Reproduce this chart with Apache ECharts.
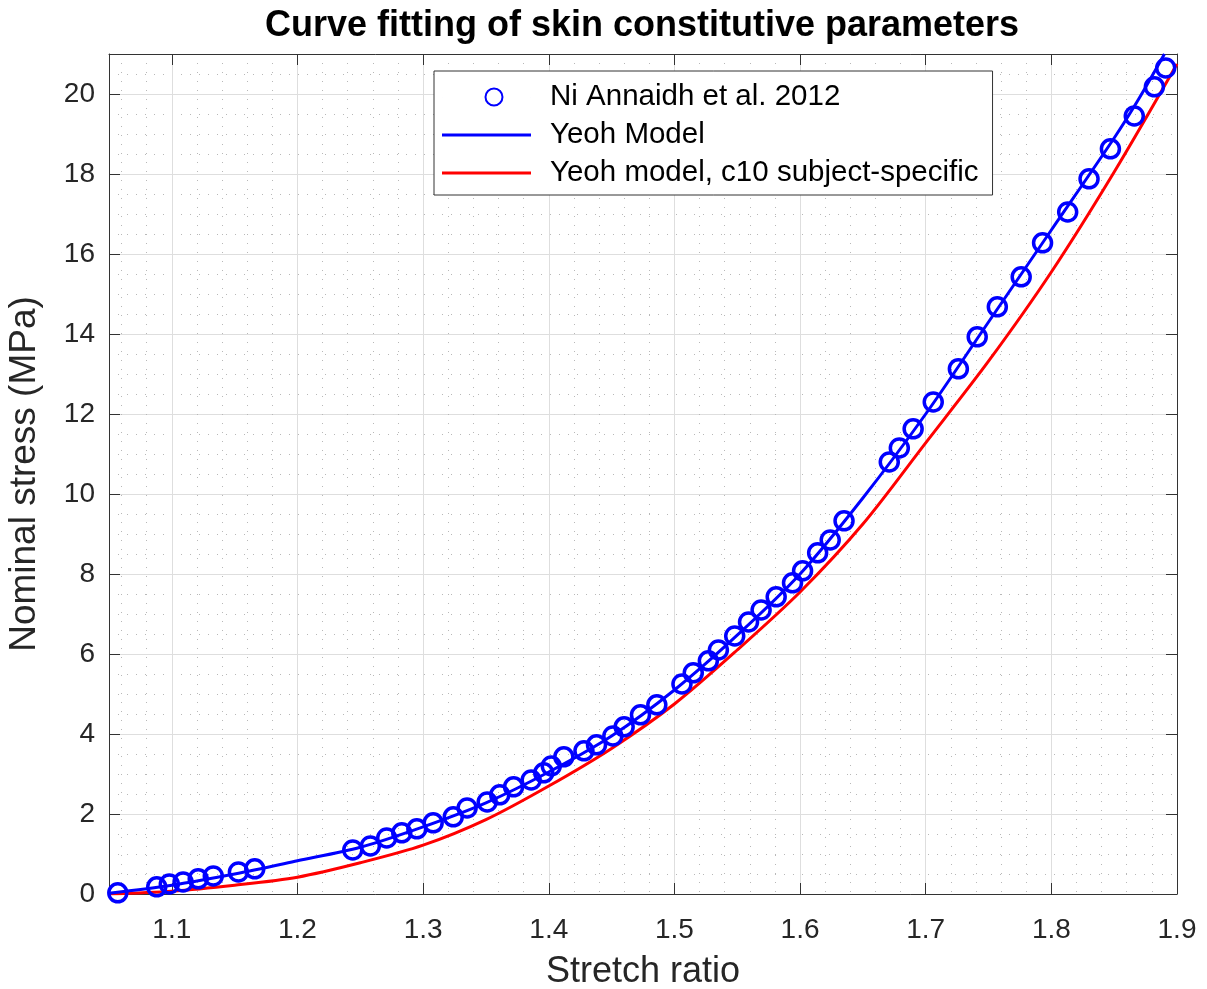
<!DOCTYPE html>
<html><head><meta charset="utf-8">
<script src="https://cdn.jsdelivr.net/npm/echarts@6/dist/echarts.min.js"></script>
<style>html,body{margin:0;padding:0;background:#fff}#c{width:1207px;height:989px}</style>
</head><body><div id="c"></div>
<script>
// Experimental data (Ni Annaidh et al. 2012)
const stretch = [1.057,1.088,1.098,1.109,1.121,1.133,1.153,1.166,
  1.244,1.258,1.271,1.283,1.295,1.308,1.324,1.335,1.351,1.361,1.372,1.386,1.396,1.402,1.412,1.428,1.438,1.451,1.460,1.473,1.486,
  1.506,1.515,1.527,1.535,1.548,1.559,1.569,1.581,1.594,1.602,1.614,1.624,1.635,
  1.671,1.679,1.690,1.706,1.726,1.741,1.757,1.776,1.793,1.813,1.830,1.847,1.866,1.882,1.891];
const stress = [0.03,0.18,0.25,0.30,0.38,0.45,0.55,0.63,
  1.10,1.20,1.40,1.53,1.63,1.78,1.93,2.15,2.30,2.48,2.68,2.85,3.03,3.20,3.43,3.58,3.73,3.95,4.18,4.48,4.73,
  5.25,5.53,5.83,6.10,6.45,6.80,7.10,7.43,7.78,8.08,8.53,8.85,9.33,
  10.80,11.15,11.63,12.30,13.13,13.93,14.68,15.43,16.28,17.05,17.88,18.63,19.45,20.18,20.65];
// Yeoh model fit
const yeohStretch = [1.05,1.10,1.15,1.20,1.25,1.30,1.35,1.40,1.45,1.50,1.55,1.60,1.65,1.70,1.75,1.80,1.85,1.87,1.89];
const yeohStress  = [0.02,0.22,0.50,0.83,1.17,1.68,2.28,3.05,3.95,5.10,6.47,8.00,9.90,12.00,14.30,16.60,18.90,19.90,21.00];
// Yeoh model, c10 subject-specific
const c10Stretch = [1.05,1.10,1.15,1.20,1.25,1.30,1.35,1.40,1.45,1.50,1.55,1.60,1.65,1.70,1.75,1.80,1.85,1.90];
const c10Stress  = [0.00,0.07,0.22,0.42,0.78,1.22,1.86,2.70,3.64,4.75,6.10,7.55,9.25,11.28,13.32,15.55,18.05,20.75];
// Axis ticks
const xTickValues = [1.1,1.2,1.3,1.4,1.5,1.6,1.7,1.8,1.9];
const yTickValues = [0,2,4,6,8,10,12,14,16,18,20];
const xMinorValues = [];
for (let k = 106; k <= 190; k += 2) { if (k % 10 !== 0) xMinorValues.push(k / 100); }
const yMinorValues = [];
for (let k = 1; k <= 42; k++) { if (k % 4 !== 0) yMinorValues.push(k / 2); }

const X_MIN = 1.05, X_MAX = 1.9, Y_MIN = 0, Y_MAX = 21;
const axisColor = '#333333';
const font = '"Liberation Sans", Arial, Helvetica, sans-serif';

function toPairs(xs, ys) { return xs.map((x, i) => [x, ys[i]]); }

const chart = echarts.init(document.getElementById('c'), null, {renderer: 'canvas'});
const majorSplit = {show: true, lineStyle: {color: '#dedede', width: 1, type: 'solid'}};
const minorSplit = {show: true, lineStyle: {color: '#b8b8b8', width: 1, type: [1, 8]}};
const lineIcon = 'path://M0,0L90,0L90,3L0,3Z';
const circleIcon = 'path://M0,10L0.01,10M89,10L89.01,10M60.5,10A8.5,8.5,0,1,1,43.5,10A8.5,8.5,0,1,1,60.5,10Z';

const option = {
  backgroundColor: '#ffffff',
  animation: false,
  title: {
    text: 'Curve fitting of skin constitutive parameters',
    left: 637, top: 3, textAlign: 'center',
    textStyle: {fontFamily: font, fontWeight: 'bold', fontSize: 36, color: '#000'}
  },
  grid: {left: 109, top: 54, width: 1068, height: 840, containLabel: false, outerBoundsMode: 'none'},
  legend: {
    orient: 'vertical', left: 434, top: 71,
    backgroundColor: '#fff', borderColor: '#333', borderWidth: 1, borderRadius: 0,
    padding: [11, 14, 7, 7],
    itemWidth: 89, itemHeight: 20, itemGap: 8,
    textStyle: {fontFamily: font, fontSize: 29.5, color: '#000', lineHeight: 30, padding: [0, 0, 0, 14]},
    data: [
      {name: 'Ni Annaidh et al. 2012', icon: circleIcon},
      {name: 'Yeoh Model', icon: lineIcon},
      {name: 'Yeoh model, c10 subject-specific', icon: lineIcon}
    ]
  },
  xAxis: [
    { // main bottom axis
      type: 'value', min: X_MIN, max: X_MAX, position: 'bottom',
      name: 'Stretch ratio', nameLocation: 'middle', nameGap: 60,
      nameTextStyle: {fontFamily: font, fontSize: 36, color: '#262626'},
      axisLine: {show: true, onZero: false, lineStyle: {color: axisColor, width: 1}},
      axisTick: {show: true, inside: true, length: 11, customValues: xTickValues, lineStyle: {color: axisColor}},
      axisLabel: {show: true, customValues: xTickValues, margin: 22, fontFamily: font, fontSize: 28, color: '#262626',
        formatter: v => v.toFixed(1)},
      splitLine: majorSplit
    },
    { // top box axis
      type: 'value', min: X_MIN, max: X_MAX, position: 'top',
      axisLine: {show: true, onZero: false, lineStyle: {color: axisColor, width: 1}},
      axisTick: {show: true, inside: true, length: 11, customValues: xTickValues, lineStyle: {color: axisColor}},
      axisLabel: {show: false}, splitLine: {show: false}
    },
    { // minor grid
      type: 'value', min: X_MIN, max: X_MAX, position: 'bottom',
      axisLine: {show: false}, axisTick: {show: false, customValues: xMinorValues}, axisLabel: {show: false},
      splitLine: minorSplit
    }
  ],
  yAxis: [
    {
      type: 'value', min: Y_MIN, max: Y_MAX, position: 'left',
      name: 'Nominal stress (MPa)', nameLocation: 'middle', nameGap: 66, nameRotate: 90,
      nameTextStyle: {fontFamily: font, fontSize: 37, color: '#262626'},
      axisLine: {show: true, onZero: false, lineStyle: {color: axisColor, width: 1}},
      axisTick: {show: true, inside: true, length: 11, customValues: yTickValues, lineStyle: {color: axisColor}},
      axisLabel: {show: true, customValues: yTickValues, margin: 14, fontFamily: font, fontSize: 28, color: '#262626'},
      splitLine: majorSplit
    },
    {
      type: 'value', min: Y_MIN, max: Y_MAX, position: 'right',
      axisLine: {show: true, onZero: false, lineStyle: {color: axisColor, width: 1}},
      axisTick: {show: true, inside: true, length: 11, customValues: yTickValues, lineStyle: {color: axisColor}},
      axisLabel: {show: false}, splitLine: {show: false}
    },
    {
      type: 'value', min: Y_MIN, max: Y_MAX, position: 'left',
      axisLine: {show: false}, axisTick: {show: false, customValues: yMinorValues}, axisLabel: {show: false},
      splitLine: minorSplit
    }
  ],
  series: [
    {
      name: 'Yeoh model, c10 subject-specific', type: 'line', xAxisIndex: 0, yAxisIndex: 0,
      data: toPairs(c10Stretch, c10Stress), symbol: 'none', smooth: 0.3,
      lineStyle: {color: '#ff0000', width: 3}, itemStyle: {color: '#ff0000'}, clip: true, z: 3
    },
    {
      name: 'Yeoh Model', type: 'line', xAxisIndex: 0, yAxisIndex: 0,
      data: toPairs(yeohStretch, yeohStress), symbol: 'none', smooth: 0.3,
      lineStyle: {color: '#0000ff', width: 3}, itemStyle: {color: '#0000ff'}, clip: true, z: 4
    },
    {
      name: 'Ni Annaidh et al. 2012', type: 'scatter', xAxisIndex: 0, yAxisIndex: 0,
      data: toPairs(stretch, stress), symbol: 'circle', symbolSize: 18,
      itemStyle: {color: 'rgba(0,0,255,0)', borderColor: '#0000ff', borderWidth: 3.5, opacity: 1}, z: 5
    }
  ]
};
chart.setOption(option);
</script></body></html>
